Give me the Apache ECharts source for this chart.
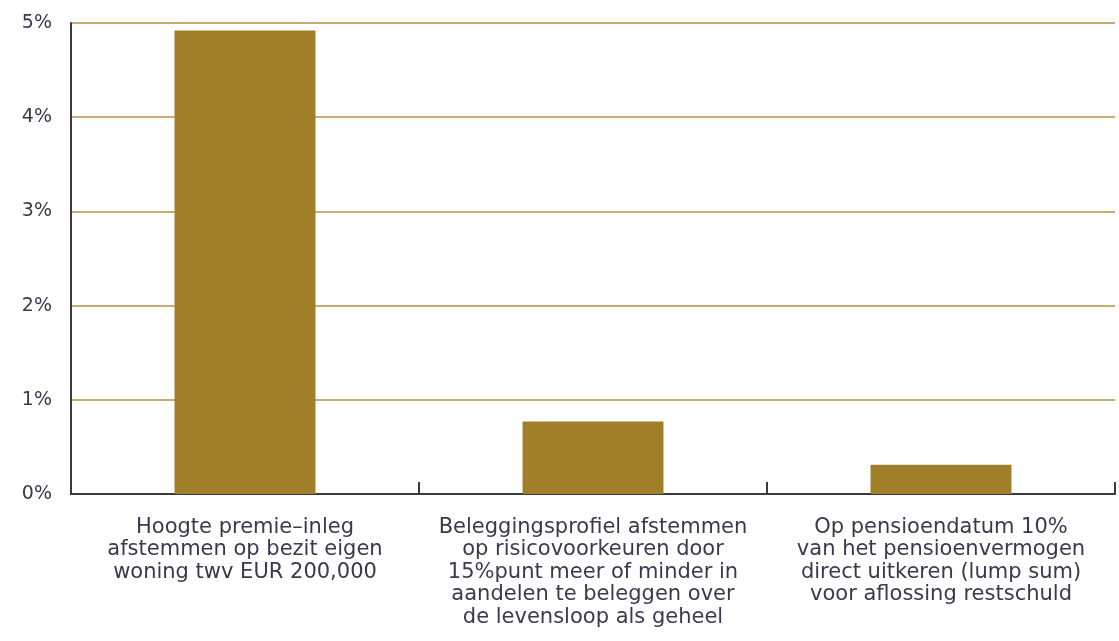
<!DOCTYPE html>
<html>
<head>
<meta charset="utf-8">
<script src="https://cdn.jsdelivr.net/npm/echarts@6/dist/echarts.min.js"></script>
<style>
  html, body { margin: 0; padding: 0; background: #fff; }
  #chart { width: 1119px; height: 641px; }
</style>
</head>
<body>
<div id="chart"></div>
<script>
// categories (x axis labels)
const categories = [
  'Hoogte premie–inleg\nafstemmen op bezit eigen\nwoning twv EUR 200,000',
  'Beleggingsprofiel afstemmen\nop risicovoorkeuren door\n15%punt meer of minder in\naandelen te beleggen over\nde levensloop als geheel',
  'Op pensioendatum 10%\nvan het pensioenvermogen\ndirect uitkeren (lump sum)\nvoor aflossing restschuld'
]
// values in percent
const values = [4.92, 0.77, 0.31]

const gold = '#a07f28'
const chart = echarts.init(document.getElementById('chart'))
chart.setOption({
  animation: false,
  grid: { left: 71, right: 4, top: 23, bottom: 147, outerBoundsMode: 'none', containLabel: false },
  xAxis: {
    type: 'category',
    data: categories,
    axisLine: { lineStyle: { color: '#3a3a3a', width: 2 } },
    axisTick: { show: true, inside: true, length: 12, lineStyle: { color: '#3a3a3a', width: 2 } },
    axisLabel: {
      interval: 0,
      margin: 22,
      color: '#3a3a4e',
      fontFamily: 'DejaVu Sans',
      fontSize: 21,
      lineHeight: 22.5,
      align: 'center'
    }
  },
  yAxis: {
    type: 'value',
    min: 0,
    max: 5,
    interval: 1,
    axisLine: { show: true, lineStyle: { color: '#3a3a3a', width: 2 } },
    axisTick: { show: false },
    splitLine: { lineStyle: { color: '#b39344', width: 1.5 } },
    axisLabel: {
      formatter: '{value}%',
      margin: 19,
      color: '#3a3a4e',
      fontFamily: 'DejaVu Sans',
      fontSize: 19,
      padding: [0, 0, 6, 0]
    }
  },
  series: [{
    type: 'bar',
    data: values,
    barWidth: '40.5%',
    itemStyle: { color: gold }
  }]
})
</script>
</body>
</html>
